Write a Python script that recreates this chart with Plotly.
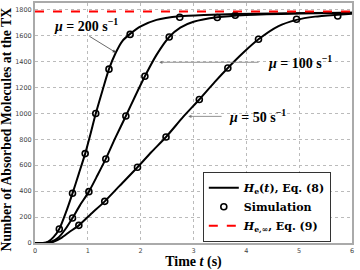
import plotly.graph_objects as go

# Theory curves
t200 = [0, 0.15, 0.25, 0.35, 0.46, 0.58, 0.71, 0.83, 0.95, 1.05, 1.15, 1.28, 1.40, 1.53, 1.65, 1.80, 2.0, 2.3, 2.74, 3.2, 3.79, 4.5, 5.2, 6.0]
h200 = [0, 0, 10, 45, 108, 230, 383, 535, 689, 840, 998, 1180, 1340, 1468, 1555, 1612, 1670, 1720, 1748, 1758, 1765, 1770, 1773, 1775]
t100 = [0, 0.2, 0.3, 0.45, 0.58, 0.71, 0.85, 1.02, 1.18, 1.34, 1.52, 1.72, 1.9, 2.08, 2.3, 2.54, 2.75, 3.0, 3.45, 4.0, 5.0, 6.0]
h100 = [0, 0, 8, 45, 110, 193, 290, 396, 520, 648, 810, 979, 1135, 1285, 1450, 1588, 1660, 1705, 1740, 1758, 1770, 1775]
t50 = [0, 0.2, 0.35, 0.5, 0.65, 0.83, 1.05, 1.32, 1.6, 1.94, 2.2, 2.48, 2.8, 3.11, 3.4, 3.65, 3.95, 4.23, 4.6, 4.95, 5.3, 5.73, 6.0]
h50 = [0, 0, 10, 40, 85, 136, 220, 321, 440, 584, 700, 817, 970, 1106, 1240, 1349, 1470, 1570, 1670, 1720, 1745, 1760, 1768]

# Simulation points
s200_t = [0.46, 0.71, 0.95, 1.15, 1.40, 1.80, 2.74, 3.79]
s200_h = [108, 383, 689, 998, 1340, 1608, 1740, 1756]
s100_t = [0.71, 1.02, 1.34, 1.72, 2.08, 2.54, 3.45]
s100_h = [193, 396, 648, 979, 1285, 1588, 1738]
s50_t = [0.83, 1.32, 1.94, 2.48, 3.11, 3.65, 4.23, 4.95, 5.73]
s50_h = [136, 321, 584, 817, 1106, 1349, 1570, 1725, 1750]

h_inf = 1785
x_range = [0, 6]

serif = "Liberation Serif"

fig = go.Figure()
first = True
for tt, hh in [(t200, h200), (t100, h100), (t50, h50)]:
    fig.add_trace(go.Scatter(x=tt, y=hh, mode="lines", line=dict(color="black", width=2, shape="spline", smoothing=0.6),
                             name="<b><i>H</i><sub>e</sub>(<i>t</i>), Eq. (8)</b>", showlegend=first, legendrank=1))
    first = False
first = True
for tt, hh in [(s200_t, s200_h), (s100_t, s100_h), (s50_t, s50_h)]:
    fig.add_trace(go.Scatter(x=tt, y=hh, mode="markers",
                             marker=dict(symbol="circle-open", size=6, color="black", line=dict(width=1.6)),
                             name="<b>Simulation</b>", showlegend=first, legendrank=2))
    first = False
fig.add_trace(go.Scatter(x=x_range, y=[h_inf, h_inf], mode="lines",
                         line=dict(color="#ff0000", width=2, dash="dash"),
                         name="<b><i>H</i><sub>e,∞</sub>, Eq. (9)</b>", legendrank=3))

ann_font = dict(family=serif, size=14, color="black")
fig.add_annotation(x=1.53, y=1468, ax=1.0, ay=1601, axref="x", ayref="y",
                   text="", showarrow=True, arrowhead=2, arrowsize=0.8, arrowwidth=0.8, arrowcolor="#444")
fig.add_annotation(x=0.965, y=1678, text="<b><i>μ</i> = 200 s<sup>−1</sup></b>", showarrow=False, font=ann_font)
fig.add_annotation(x=2.35, y=1393, ax=4.26, ay=1393, axref="x", ayref="y",
                   text="", showarrow=True, arrowhead=2, arrowsize=0.8, arrowwidth=0.8, arrowcolor="#777")
fig.add_annotation(x=5.02, y=1393, text="<b><i>μ</i> = 100 s<sup>−1</sup></b>", showarrow=False, font=ann_font)
fig.add_annotation(x=2.9, y=976, ax=3.56, ay=976, axref="x", ayref="y",
                   text="", showarrow=True, arrowhead=2, arrowsize=0.8, arrowwidth=0.8, arrowcolor="#777")
fig.add_annotation(x=4.22, y=976, text="<b><i>μ</i> = 50 s<sup>−1</sup></b>", showarrow=False, font=ann_font)

# y-axis title (placed slightly below centre, as in the reference)
fig.add_annotation(xref="paper", yref="paper", x=-0.09, y=0.475, xanchor="center", yanchor="middle",
                   textangle=-90, text="<b>Number of Absorbed Molecules at the TX</b>", showarrow=False,
                   font=dict(family=serif, size=13.7, color="black"))

axis_common = dict(showline=True, linecolor="#aaaaaa", linewidth=2, mirror=True,
                   showgrid=True, gridcolor="#bbbbbb", griddash="dot", gridwidth=1,
                   zeroline=False, ticks="", automargin=False,
                   tickfont=dict(family="DejaVu Sans", size=6.5, color="#444"))

fig.update_layout(
    width=360, height=270,
    margin=dict(l=35, r=8, t=3, b=27),
    plot_bgcolor="white", paper_bgcolor="white",
    showlegend=True,
    legend=dict(x=0.53, y=0.15, xanchor="left", yanchor="middle",
                bgcolor="white", bordercolor="black", borderwidth=0.8,
                font=dict(family="DejaVu Serif", size=11, color="black"),
                tracegroupgap=0, itemwidth=30),
    xaxis=dict(range=x_range, tickvals=[0, 1, 2, 3, 4, 5, 6],
               title=dict(text="<b>Time <i>t</i> (s)</b>", font=dict(family=serif, size=14, color="black"), standoff=0),
               **axis_common),
    yaxis=dict(range=[0, 1850], tickvals=list(range(0, 1801, 200)), **axis_common),
)

fig.write_html("out.html", config={"displayModeBar": False},
               post_script="document.body.style.margin='0';document.body.style.overflow='hidden';")
